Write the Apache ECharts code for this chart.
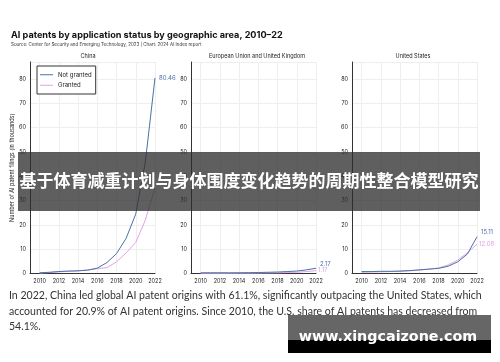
<!DOCTYPE html>
<html><head><meta charset="utf-8">
<script src="https://cdn.jsdelivr.net/npm/echarts@6/dist/echarts.min.js"></script>
<style>html,body{margin:0;padding:0;background:#fff}#c{width:500px;height:362px}</style>
</head><body><div id="c"></div>
<script>
var years = [2010,2011,2012,2013,2014,2015,2016,2017,2018,2019,2020,2021,2022];
var yTicks = [0,10,20,30,40,50,60,70,80];
var panels = ['China','European Union and United Kingdom','United States'];
var chinaNotGranted = [0.3,0.5,0.8,1.0,1.1,1.4,2.2,4.5,8.2,14.5,24.5,46,80.46];
var chinaGranted    = [0.2,0.4,0.7,0.9,1.1,1.4,2.0,2.4,4.8,8.5,12.8,22,35.3];
var euNotGranted = [0.3,0.3,0.3,0.3,0.3,0.35,0.4,0.5,0.6,0.8,1.0,1.5,2.17];
var euGranted    = [0.1,0.1,0.1,0.1,0.15,0.15,0.2,0.25,0.3,0.4,0.5,0.8,1.17];
var usNotGranted = [0.8,0.8,0.9,0.9,1.0,1.2,1.5,1.8,2.1,3.0,4.8,8.0,15.11];
var usGranted    = [0.5,0.6,0.7,0.8,0.9,1.1,1.4,1.8,2.3,3.5,5.5,8.5,12.08];

var BLUE = '#4a72a8', PINK = '#e0a3e6';
function pairs(v){ return years.map(function(y,i){ return [y, v[i]]; }); }

var lefts = [30,191,352], W = 125, TOP = 62, H = 211.5;
var grids = [], xAxes = [], yAxes = [], series = [];
var notG = [chinaNotGranted, euNotGranted, usNotGranted];
var gr = [chinaGranted, euGranted, usGranted];
var notOff = [[2,0],[2,-4],[2,-5]];
for (var i=0;i<3;i++){
  grids.push({left:lefts[i], top:TOP, width:W, height:H});
  xAxes.push({type:'value', gridIndex:i, min:2009, max:2022, interval:1,
    axisLine:{show:true, onZero:false, lineStyle:{color:'#333', width:1}},
    axisTick:{show:false},
    axisLabel:{fontSize:5.5, color:'#222', margin:5, fontFamily:'Inter',
      formatter:function(v){ return (v%2===0) ? String(v) : ''; }},
    splitLine:{show:true, lineStyle:{color:['rgba(0,0,0,0)','#eeeeee'], width:1}}
  });
  yAxes.push({type:'value', gridIndex:i, min:0, max:87, interval:10,
    axisLine:{show:true, lineStyle:{color:'#333', width:1}},
    axisTick:{show:false},
    axisLabel:{fontSize:5.5, color:'#222', margin:4, fontFamily:'Inter',
      formatter:function(v){ return yTicks.indexOf(v)>=0 ? String(v) : ''; }},
    splitLine:{show:true, lineStyle:{color:'#eeeeee', width:1}},
    name: i===0 ? 'Number of AI patent filings (in thousands)' : '',
    nameLocation:'middle', nameGap:12, nameRotate:90,
    nameTextStyle:{fontSize:5.5, color:'#222', fontFamily:'Inter'}
  });
  series.push({name:'Not granted', type:'line', xAxisIndex:i, yAxisIndex:i,
    data:pairs(notG[i]), symbol:'none', lineStyle:{color:BLUE, width:1}, itemStyle:{color:BLUE},
    endLabel:{show:true, fontSize:6, color:BLUE, fontFamily:'Inter', offset:notOff[i], distance:2,
      formatter:function(p){ return p.value[1].toFixed(2); }}, z:3});
  series.push({name:'Granted', type:'line', xAxisIndex:i, yAxisIndex:i,
    data:pairs(gr[i]), symbol:'none', lineStyle:{color:PINK, width:1}, itemStyle:{color:PINK},
    endLabel:{show:i>0, fontSize:6, color:PINK, fontFamily:'Inter', distance:2,
      formatter:function(p){ return p.value[1].toFixed(2); }}, z:2});
}

var graphics = [
  {type:'text', style:{text:'AI patents by application status by geographic area, 2010–22', x:11, y:35,
    font:'bold 9.15px Inter', fill:'#111', textVerticalAlign:'middle'}},
  {type:'text', style:{text:'Source: Center for Security and Emerging Technology, 2023 | Chart: 2024 AI Index report', x:11, y:45,
    font:'4.5px Inter', fill:'#333', textVerticalAlign:'middle'}}
];
var panelCx = [88,257,413];
for (var j=0;j<3;j++){
  graphics.push({type:'text', style:{text:panels[j], x:panelCx[j], y:56.5, font:'5.5px Inter', fill:'#222',
    textAlign:'center', textVerticalAlign:'middle'}});
}
var para = ['In 2022, China led global AI patent origins with 61.1%, significantly outpacing the United States, which',
  'accounted for 20.9% of AI patent origins. Since 2010, the U.S. share of AI patents has decreased from',
  '54.1%.'];
for (var k=0;k<para.length;k++){
  graphics.push({type:'text', style:{text:para[k], x:9, y:296+k*15.3, font:'10.55px Lato', fill:'#333', textVerticalAlign:'middle'}, z:50});
}
graphics.push({type:'rect', shape:{x:18, y:152, width:462, height:59}, style:{fill:'rgba(45,45,45,0.76)'}, z:100});
graphics.push({type:'text', style:{text:'基于体育减重计划与身体围度变化趋势的周期性整合模型研究', x:249, y:181,
  font:'bold 17px "Noto Sans CJK SC"', fill:'#fff', textAlign:'center', textVerticalAlign:'middle'}, z:101});
graphics.push({type:'rect', shape:{x:288, y:315, width:203, height:25}, style:{fill:'rgba(85,85,85,0.9)'}, z:100});
graphics.push({type:'rect', shape:{x:288, y:340, width:203, height:13}, style:{fill:'#000'}, z:100});
graphics.push({type:'text', style:{text:'www.xingcaizone.com', x:388, y:337, font:'bold 14.3px "DejaVu Sans"', fill:'#fff',
  textAlign:'center', textVerticalAlign:'middle'}, z:101});

var chart = echarts.init(document.getElementById('c'), null, {renderer:'canvas'});
chart.setOption({
  animation:false,
  backgroundColor:'#fff',
  textStyle:{fontFamily:'Inter'},
  grid:grids, xAxis:xAxes, yAxis:yAxes, series:series,
  legend:{data:['Not granted','Granted'], orient:'vertical', left:37, top:66,
    icon:'rect', borderColor:'#333', borderWidth:1, padding:[5,4,5,3], itemGap:3, itemWidth:13, itemHeight:1,
    backgroundColor:'#fff', textStyle:{fontSize:6, lineHeight:7.5, color:'#222', fontFamily:'Inter'}},
  graphic:graphics
});
</script></body></html>
